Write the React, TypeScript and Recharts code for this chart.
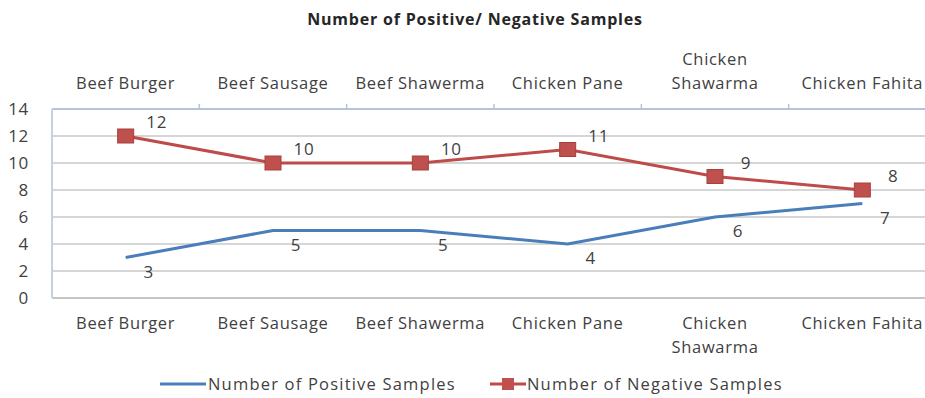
import { CartesianGrid, LabelList, Line, LineChart, XAxis, YAxis } from 'recharts'

const categories = ['Beef Burger', 'Beef Sausage', 'Beef Shawerma', 'Chicken Pane', 'Chicken Shawarma', 'Chicken Fahita']
const positiveSamples = [3, 5, 5, 4, 6, 7]
const negativeSamples = [12, 10, 10, 11, 9, 8]
const yTicks = [0, 2, 4, 6, 8, 10, 12, 14]

const data = categories.map((name, i) => ({
  name,
  positive: positiveSamples[i],
  negative: negativeSamples[i],
}))

const FONT = '"Open Sans", sans-serif'
const TEXT = '#3f3f3f'
const BLUE = '#4a7ebb'
const RED = '#be4b48'
const LS = 0.7

function splitLabel(label: string) {
  if (label.length <= 14) return [label]
  const words = label.split(' ')
  return [words[0], words.slice(1).join(' ')]
}

function CategoryTick(props: any) {
  const { x, y, payload, orientation, index } = props
  const lines = splitLabel(String(payload.value))
  const lineH = 24
  const top = orientation === 'top'
  const half = payload.offset ?? 0
  return (
    <g>
      {lines.map((ln, i) => {
        const ty = top ? y - 20 - (lines.length - 1 - i) * lineH : y + 31 + i * lineH
        return (
          <text
            key={i}
            x={x}
            y={ty}
            textAnchor="middle"
            fill={TEXT}
            fontSize={16.5}
            letterSpacing={LS}
            fontFamily={FONT}
          >
            {ln}
          </text>
        )
      })}
      {top && index < categories.length - 1 && (
        <line x1={x + half} x2={x + half} y1={y} y2={y - 5} stroke="#b4c4dc" strokeWidth={1.5} />
      )}
    </g>
  )
}

function NegLabel(props: any) {
  const { x, y, value } = props
  return (
    <text x={x + 31} y={y - 8} textAnchor="middle" fill={TEXT} fontSize={17} letterSpacing={LS} fontFamily={FONT}>
      {value}
    </text>
  )
}

function PosLabel(props: any) {
  const { x, y, value } = props
  return (
    <text x={x + 23} y={y + 20} textAnchor="middle" fill={TEXT} fontSize={17} letterSpacing={LS} fontFamily={FONT}>
      {value}
    </text>
  )
}

function SquareDot(props: any) {
  const { cx, cy } = props
  if (cx == null || cy == null) return null
  return <rect x={cx - 8} y={cy - 7} width={16} height={14} fill="#c0504d" stroke="#a8403d" strokeWidth={1} />
}

export default function App() {
  return (
    <div
      style={{
        position: 'fixed',
        left: 0,
        top: 0,
        width: 925,
        height: 398,
        overflow: 'hidden',
        background: '#fff',
        fontFamily: FONT,
      }}
    >
      <div
        style={{
          position: 'absolute',
          top: 8,
          left: 475 - 250,
          width: 500,
          textAlign: 'center',
          fontWeight: 700,
          fontSize: 16,
          letterSpacing: 0.8,
          color: '#262626',
        }}
      >
        Number of Positive/ Negative Samples
      </div>
      <LineChart
        width={936}
        height={398}
        data={data}
        margin={{ top: 0, right: 0, bottom: 40, left: 0 }}
        style={{ position: 'absolute', left: 0, top: 0 }}
      >
        <CartesianGrid vertical={false} stroke="#c8c8c8" strokeWidth={1.5} />
        <XAxis
          xAxisId="top"
          orientation="top"
          dataKey="name"
          scale="band"
          height={109}
          tickSize={0}
          tickMargin={0}
          interval={0}
          axisLine={{ stroke: '#b4c4dc', strokeWidth: 2 }}
          tick={<CategoryTick orientation="top" />}
        />
        <XAxis
          dataKey="name"
          scale="band"
          height={60}
          tickSize={0}
          tickMargin={0}
          interval={0}
          axisLine={{ stroke: '#c0c0c0', strokeWidth: 1.5 }}
          tick={<CategoryTick orientation="bottom" />}
        />
        <YAxis
          domain={[0, 14]}
          ticks={yTicks}
          width={52}
          tickLine={false}
          tickMargin={17}
          axisLine={{ stroke: '#c4d2e6', strokeWidth: 2 }}
          tick={{ fill: TEXT, fontSize: 17, fontFamily: FONT, letterSpacing: LS }}
        />
        <Line
          type="linear"
          dataKey="positive"
          stroke={BLUE}
          strokeWidth={3}
          dot={false}
          isAnimationActive={false}
        >
          <LabelList dataKey="positive" content={<PosLabel />} />
        </Line>
        <Line
          type="linear"
          dataKey="negative"
          stroke={RED}
          strokeWidth={3}
          dot={<SquareDot />}
          activeDot={false}
          isAnimationActive={false}
        >
          <LabelList dataKey="negative" content={<NegLabel />} />
        </Line>
      </LineChart>
      <div
        style={{
          position: 'absolute',
          top: 372,
          left: 160,
          display: 'flex',
          fontSize: 16.5,
          letterSpacing: 1.2,
          color: TEXT,
        }}
      >
        <div style={{ display: 'flex', alignItems: 'center', width: 330 }}>
          <svg width={48} height={16}>
            <line x1={0} x2={46} y1={8} y2={8} stroke={BLUE} strokeWidth={3} />
          </svg>
          <span>Number of Positive Samples</span>
        </div>
        <div style={{ display: 'flex', alignItems: 'center' }}>
          <svg width={37} height={16}>
            <line x1={0} x2={36} y1={8} y2={8} stroke={RED} strokeWidth={3} />
            <rect x={12} y={2} width={12} height={12} fill="#c0504d" />
          </svg>
          <span>Number of Negative Samples</span>
        </div>
      </div>
    </div>
  )
}
